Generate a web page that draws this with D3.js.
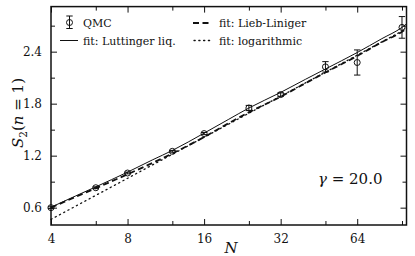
<!DOCTYPE html>
<html><head><meta charset="utf-8">
<script src="https://cdn.jsdelivr.net/npm/d3@7"></script>
<style>body{margin:0;background:#fff}svg{display:block}</style>
</head><body>
<svg id="c" width="415" height="256"></svg>
<script>
// ---- data ----
const qmcN   = [4, 6, 8, 12, 16, 24, 32, 48, 64, 96];
const qmcS   = [0.60, 0.83, 1.00, 1.25, 1.455, 1.75, 1.905, 2.225, 2.275, 2.68];
const qmcErr = [0.01, 0.01, 0.01, 0.01, 0.012, 0.03, 0.02, 0.06, 0.145, 0.125];

const fitN        = [4, 5, 6, 8, 10, 12, 16, 20, 24, 32, 40, 48, 64, 80, 96, 100];
const fitLuttinger = [0.605, 0.735, 0.84, 1.01, 1.15, 1.26, 1.46, 1.62, 1.75, 1.93, 2.08, 2.20, 2.39, 2.55, 2.68, 2.72];
const fitLieb      = [0.60, 0.725, 0.825, 0.985, 1.115, 1.225, 1.415, 1.575, 1.70, 1.88, 2.035, 2.16, 2.35, 2.51, 2.63, 2.665];
const fitLogN = [4, 100];
const fitLog  = [0.465, 2.665];

const xMajor = [4, 8, 16, 32, 64];
const xMinor = [6, 12, 24, 48, 96];
const yMajor = [0.6, 1.2, 1.8, 2.4];
const yMinor = [0.9, 1.5, 2.1, 2.7];

// ---- layout ----
const L = 51, R = 406.5, T = 6.6, B = 225;
const svg = d3.select("#c");
const x = d3.scaleLog().domain([4, 100]).range([L, R]);
const y = d3.scaleLinear().domain([0.4, 2.92]).range([B, T]);
const serif = "DejaVu Serif";
const ink = "#111";

// lines
const line = d3.line().x(d => x(d[0])).y(d => y(d[1])).curve(d3.curveMonotoneX);
const g = svg.append("g");
g.append("path").datum(fitLogN.map((n, i) => [n, fitLog[i]]))
  .attr("d", line).attr("fill", "none").attr("stroke", ink)
  .attr("stroke-width", 1.3).attr("stroke-dasharray", "1.2,3.6").attr("stroke-linecap", "round");
g.append("path").datum(fitN.map((n, i) => [n, fitLieb[i]]))
  .attr("d", line).attr("fill", "none").attr("stroke", ink)
  .attr("stroke-width", 1.8).attr("stroke-dasharray", "6,3.5");
g.append("path").datum(fitN.map((n, i) => [n, fitLuttinger[i]]))
  .attr("d", line).attr("fill", "none").attr("stroke", ink)
  .attr("stroke-width", 1);

// QMC points with error bars
function errMarker(sel, cx, cy, y0, y1) {
  sel.append("line").attr("x1", cx).attr("x2", cx).attr("y1", y0).attr("y2", y1)
    .attr("stroke", ink).attr("stroke-width", 1);
  [y0, y1].forEach(v => sel.append("line").attr("x1", cx - 3.2).attr("x2", cx + 3.2)
    .attr("y1", v).attr("y2", v).attr("stroke", ink).attr("stroke-width", 1));
  sel.append("circle").attr("cx", cx).attr("cy", cy).attr("r", 3)
    .attr("fill", "none").attr("stroke", ink).attr("stroke-width", 1);
}
qmcN.forEach((n, i) => {
  errMarker(g, x(n), y(qmcS[i]), y(qmcS[i] + qmcErr[i]), y(qmcS[i] - qmcErr[i]));
});

// frame + ticks (inward, mirrored)
const axG = svg.append("g");
function addAxis(axisFn, scale, major, minor, tr, labels) {
  axG.append("g").attr("transform", tr)
    .call(axisFn(scale).tickValues(major).tickSize(-6).tickPadding(9)
      .tickFormat(labels ? (d => d3.format(scale === y ? ".1f" : "d")(d)) : () => ""));
  axG.append("g").attr("transform", tr)
    .call(axisFn(scale).tickValues(minor).tickSize(-4).tickFormat(() => ""));
}
addAxis(d3.axisBottom, x, xMajor, xMinor, `translate(0,${B})`, true);
addAxis(d3.axisTop, x, xMajor, xMinor, `translate(0,${T})`, false);
addAxis(d3.axisLeft, y, yMajor, yMinor, `translate(${L},0)`, true);
addAxis(d3.axisRight, y, yMajor, yMinor, `translate(${R},0)`, false);
axG.selectAll(".domain").remove();
axG.selectAll(".tick line").attr("stroke", ink).attr("stroke-width", 1);
axG.selectAll(".tick text").attr("font-family", serif).attr("font-size", 12).attr("fill", ink);
svg.append("rect").attr("x", L).attr("y", T).attr("width", R - L).attr("height", B - T)
  .attr("fill", "none").attr("stroke", ink).attr("stroke-width", 1.5);

// axis labels
svg.append("text").attr("x", 231).attr("y", 253).attr("text-anchor", "middle")
  .attr("font-family", serif).attr("font-style", "italic").attr("font-size", 15).attr("fill", ink).text("N");
const yl = svg.append("text").attr("transform", "translate(23,113) rotate(-90)")
  .attr("text-anchor", "middle").attr("font-family", serif).attr("font-size", 15).attr("fill", ink);
yl.append("tspan").attr("font-style", "italic").text("S");
yl.append("tspan").attr("font-size", 10.5).attr("dy", 3.5).text("2");
yl.append("tspan").attr("dy", -3.5).text("(");
yl.append("tspan").attr("font-style", "italic").text("n");
yl.append("tspan").text(" = 1)");

// gamma annotation
const gt = svg.append("text").attr("x", 318).attr("y", 183.5)
  .attr("font-family", serif).attr("font-size", 15).attr("fill", ink);
gt.append("tspan").attr("font-style", "italic").text("γ");
gt.append("tspan").text(" = 20.0");

// legend
const lg = svg.append("g").attr("font-family", serif).attr("font-size", 11).attr("fill", ink);
errMarker(lg, 69.5, 22.5, 16, 28.5);
lg.append("text").attr("x", 83).attr("y", 27).text("QMC");
lg.append("line").attr("x1", 60).attr("x2", 78).attr("y1", 40.5).attr("y2", 40.5)
  .attr("stroke", ink).attr("stroke-width", 1);
lg.append("text").attr("x", 83).attr("y", 44.5).text("fit: Luttinger liq.");
lg.append("line").attr("x1", 193).attr("x2", 212).attr("y1", 23).attr("y2", 23)
  .attr("stroke", ink).attr("stroke-width", 1.8).attr("stroke-dasharray", "6,3.5");
lg.append("text").attr("x", 219).attr("y", 27).text("fit: Lieb-Liniger");
lg.append("line").attr("x1", 194).attr("x2", 212).attr("y1", 40.5).attr("y2", 40.5)
  .attr("stroke", ink).attr("stroke-width", 1.3).attr("stroke-dasharray", "1.2,3.6").attr("stroke-linecap", "round");
lg.append("text").attr("x", 219).attr("y", 44.5).text("fit: logarithmic");
</script>
</body></html>
